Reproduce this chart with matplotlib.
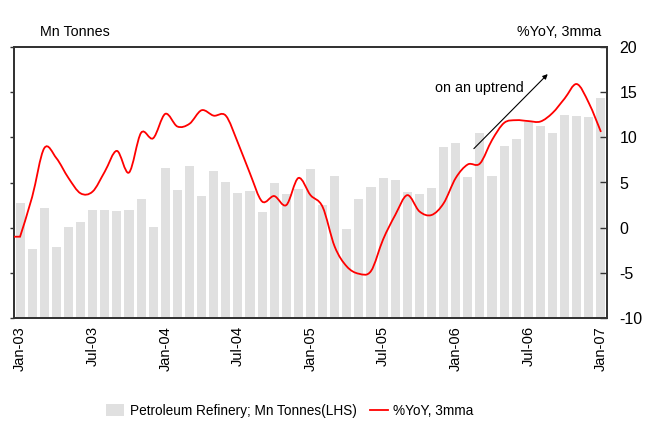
import matplotlib
matplotlib.use("Agg")
import matplotlib.pyplot as plt
from matplotlib.path import Path
from matplotlib.patches import PathPatch, Patch
from matplotlib.lines import Line2D
import numpy as np

plt.rcParams['font.family'] = ['Liberation Sans', 'DejaVu Sans']
plt.rcParams['axes.unicode_minus'] = False

months = ["Jan-03","Feb-03","Mar-03","Apr-03","May-03","Jun-03","Jul-03","Aug-03","Sep-03","Oct-03","Nov-03","Dec-03",
          "Jan-04","Feb-04","Mar-04","Apr-04","May-04","Jun-04","Jul-04","Aug-04","Sep-04","Oct-04","Nov-04","Dec-04",
          "Jan-05","Feb-05","Mar-05","Apr-05","May-05","Jun-05","Jul-05","Aug-05","Sep-05","Oct-05","Nov-05","Dec-05",
          "Jan-06","Feb-06","Mar-06","Apr-06","May-06","Jun-06","Jul-06","Aug-06","Sep-06","Oct-06","Nov-06","Dec-06",
          "Jan-07"]

# Petroleum refinery output, Mn tonnes (LHS, unlabelled scale 0-30)
refinery = [12.7, 7.6, 12.2, 7.9, 10.1, 10.6, 12.0, 12.0, 11.8, 12.0, 13.2, 10.1,
            16.6, 14.2, 16.8, 13.5, 16.3, 15.1, 13.8, 14.1, 11.7, 14.9, 13.7, 14.3,
            16.5, 12.5, 15.7, 9.8, 13.2, 14.5, 15.5, 15.3, 14.0, 13.7, 14.4, 18.9,
            19.4, 15.6, 20.5, 15.7, 19.0, 19.8, 21.7, 21.3, 20.5, 22.5, 22.4, 22.2,
            24.3]

# %YoY, 3mma (RHS)
yoy = [-1.0, 3.4, 8.8, 7.7, 5.5, 3.8, 4.0, 6.2, 8.5, 6.1, 10.5, 9.9,
       12.6, 11.2, 11.5, 13.0, 12.4, 12.4, 9.4, 6.0, 2.9, 3.5, 2.5, 5.5,
       3.6, 2.3, -2.1, -4.3, -5.1, -4.8, -1.3, 1.4, 3.6, 1.8, 1.4, 2.7,
       5.5, 7.0, 7.1, 9.7, 11.6, 11.9, 11.8, 11.75, 12.7, 14.3, 15.9, 13.8,
       10.6]

xtick_labels = ["Jan-03","Jul-03","Jan-04","Jul-04","Jan-05","Jul-05","Jan-06","Jul-06","Jan-07"]

fig = plt.figure(figsize=(6.58, 4.23), dpi=100)
ax = fig.add_axes([14/658, 1-318/423, (607-14)/658, (318-47)/423])
x = np.arange(len(months))

bar_color = "#e0e0e0"
ax.bar(x, refinery, width=0.75, color=bar_color, zorder=1)
ax.set_xlim(-0.5, len(months)-0.5)
ax.set_ylim(0, 30)
ax.set_yticks(np.arange(0, 31, 5))
ax.set_yticklabels([])
ax.tick_params(axis='y', direction='out', length=3, width=1, color="#333333")
ax.set_xticks([months.index(m) for m in xtick_labels])
ax.set_xticklabels(xtick_labels, rotation=90, fontsize=10.5)
ax.tick_params(axis='x', length=0, pad=6)
for s in ax.spines.values():
    s.set_color("#333333")
    s.set_linewidth(1.3)

ax2 = ax.twinx()
ax2.set_ylim(-10, 20)
ax2.set_yticks(np.arange(-10, 21, 5))
ax2.tick_params(axis='y', direction='in', length=5, width=1, color="#333333", labelsize=11.5, pad=9)
for s in ax2.spines.values():
    s.set_color("#333333")
    s.set_linewidth(1.3)

# Smoothed line (Catmull-Rom style Bezier through monthly points)
pts = np.column_stack([x, yoy]).astype(float)
verts = [(-0.5, yoy[0]), tuple(pts[0])]
codes = [Path.MOVETO, Path.LINETO]
n = len(pts)
for i in range(n - 1):
    p0 = pts[max(i - 1, 0)]
    p1 = pts[i]
    p2 = pts[i + 1]
    p3 = pts[min(i + 2, n - 1)]
    c1 = p1 + (p2 - p0) / 6.0
    c2 = p2 - (p3 - p1) / 6.0
    verts += [tuple(c1), tuple(c2), tuple(p2)]
    codes += [Path.CURVE4] * 3
path = Path(verts, codes)
ax2.add_patch(PathPatch(path, facecolor='none', edgecolor='#ff0000', lw=1.3, zorder=3))

# Annotation
ax2.annotate("", xy=(43.6, 17.0), xytext=(37.5, 8.75),
             arrowprops=dict(arrowstyle="-|>", color="black", lw=0.8,
                             mutation_scale=7, shrinkA=0, shrinkB=0))
ax2.text(41.6, 15.5, "on an uptrend", ha="right", va="center", fontsize=10.3)

fig.text(40/658, 1-32/423, "Mn Tonnes", ha="left", va="center", fontsize=10.3)
fig.text(601/658, 1-32/423, "%YoY, 3mma", ha="right", va="center", fontsize=10.3)

handles = [Patch(facecolor=bar_color, edgecolor='none'),
           Line2D([0], [0], color='#ff0000', lw=1.3)]
labels = ["Petroleum Refinery; Mn Tonnes(LHS)", "%YoY, 3mma"]
fig.legend(handles, labels, loc="center", bbox_to_anchor=(290/658, 1-411/423),
           ncol=2, frameon=False, fontsize=9.8, handlelength=1.3, handleheight=1.0,
           handletextpad=0.4, columnspacing=1.0)

fig.savefig("out.png", dpi=100)
